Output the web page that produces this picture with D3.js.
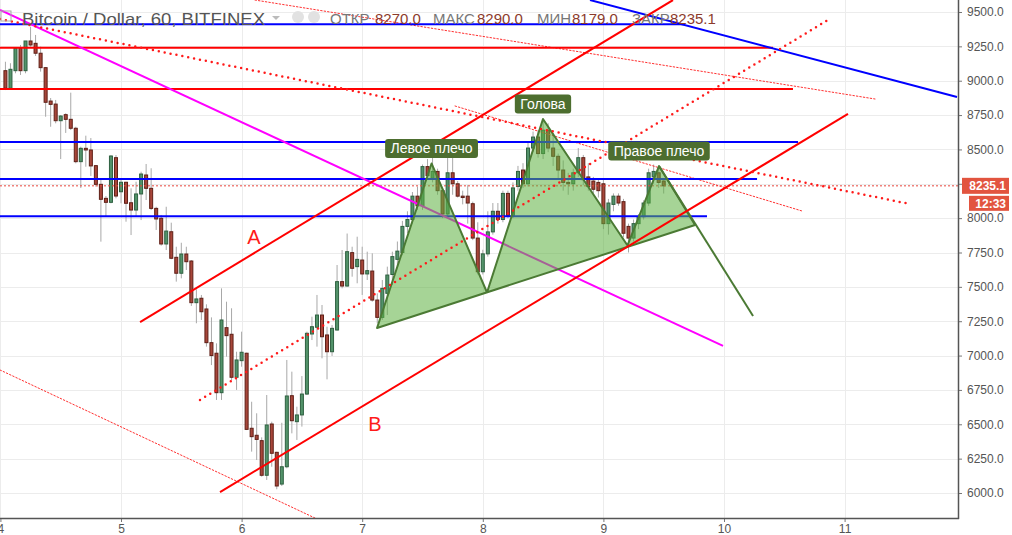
<!DOCTYPE html>
<html>
<head>
<meta charset="utf-8">
<script src="https://cdn.jsdelivr.net/npm/d3@7"></script>
<style>
  body { margin: 0; background: #fff; }
  svg { display: block; font-family: "Liberation Sans", Arial, sans-serif; }
</style>
</head>
<body>
<div id="chart"></div>
<script>
// axis ticks
var dayTicks = [4, 5, 6, 7, 8, 9, 10, 11];
var priceTicks = [6000, 6250, 6500, 6750, 7000, 7250, 7500, 7750, 8000, 8250, 8500, 8750, 9000, 9250, 9500];

// hourly candles, starting 4th 01:00
var opens = [9073,8945,9073,9236,9073,9289,9272,9200,9095,8852,8830,8709,8753,8719,8654,8411,8508,8496,8382,8246,
  8144,8115,8440,8192,8261,8112,8059,8176,8314,8217,8071,7999,7812,7901,7715,7599,7739,7688,7385,7417,
  7339,7094,7017,6730,7203,7155,6842,6963,7017,6471,6420,6381,6129,6502,6296,6065,6191,6708,6519,6568,
  6720,7157,7206,7295,7150,7028,7186,7538,7506,7749,7647,7695,7594,7615,7404,7278,7453,7590,7700,7750,
  7940,7990,8160,8090,8375,8290,8340,8200,8030,8330,8250,8160,8160,8105,7855,7610,7740,7900,8050,7990,
  8180,8020,8230,8350,8250,8510,8590,8470,8640,8510,8450,8350,8260,8250,8330,8440,8300,8270,8260,8250,
  7960,8100,8160,8120,7940,7855,7960,8010,8110,8300,8330,8270];
var highs = [9138,9127,9236,9260,9289,9393,9333,9248,9100,8874,8860,8750,8763,8913,8665,8520,8600,8583,8387,8290,
  8161,8459,8459,8278,8265,8217,8265,8338,8394,8363,8083,8023,8083,7967,7792,7821,7792,7695,7482,7441,
  7373,7278,7089,7489,7392,7344,7028,7174,7021,6664,6580,6405,6713,6519,6300,6511,6968,6883,6628,6851,
  7174,7283,7441,7368,7210,7222,7659,7768,7888,7792,7865,7792,7756,7744,7453,7550,7647,7756,7830,7980,
  8050,8190,8230,8390,8430,8450,8360,8220,8480,8480,8270,8200,8240,8120,7970,7770,8050,8110,8110,8200,
  8200,8260,8380,8400,8560,8630,8640,8710,8690,8620,8470,8420,8330,8360,8510,8460,8400,8300,8290,8280,
  8140,8180,8180,8140,7960,7990,8030,8130,8360,8390,8370,8290];
var lows = [8932,8945,9054,9042,9054,9248,9180,9066,8738,8665,8690,8430,8620,8641,8399,8219,8374,8307,8229,7829,
  8010,8108,8144,8108,7974,7877,8010,7986,8132,8059,7914,7800,7768,7701,7538,7562,7623,7361,7235,7259,
  7065,6931,6677,6677,6992,6822,6750,6919,6458,6301,6240,6119,6095,6191,6027,6051,6180,6434,6386,6483,
  6713,7113,7065,6980,6827,6997,7181,7489,7501,7574,7526,7441,7550,7392,7235,7259,7295,7514,7650,7730,
  7890,7960,8060,8060,8280,8260,8170,8000,8010,8170,8150,8100,7960,7840,7590,7590,7720,7880,7960,7970,
  8000,8000,8200,8220,8230,8480,8440,8430,8480,8380,8290,8200,8170,8200,8300,8240,8200,8180,8150,7920,
  7880,8050,8090,7860,7750,7830,7920,7990,8090,8250,8220,8179];
var closes = [8945,9083,9236,9073,9289,9260,9200,9095,8843,8828,8709,8743,8719,8654,8411,8508,8496,8380,8246,8137,
  8115,8452,8161,8261,8108,8059,8176,8321,8217,8071,7994,7812,7906,7708,7599,7739,7683,7385,7412,7319,
  7094,7000,6730,7259,7145,6842,6968,7024,6463,6410,6390,6129,6495,6289,6051,6191,6706,6526,6568,6720,
  7162,7210,7295,7137,7028,7198,7538,7506,7756,7635,7700,7594,7618,7404,7278,7489,7586,7720,7760,7940,
  7990,8160,8090,8375,8310,8340,8200,8030,8330,8250,8160,8150,8110,7855,7610,7740,7900,8050,7990,8180,
  8020,8220,8340,8250,8510,8590,8470,8640,8510,8450,8350,8260,8250,8330,8440,8280,8230,8210,8200,7960,
  8110,8160,8110,7890,7855,7960,8010,8110,8330,8340,8260,8235.1];

// header values
var symbolTitle = "Bitcoin / Dollar, 60, BITFINEX";
var ohlcNames = ["ОТКР", "МАКС", "МИН", "ЗАКР"];
var ohlcValues = [8270.0, 8290.0, 8179.0, 8235.1];
var lastPrice = 8235.1;
var timeLeft = "12:33";

// drawings, points are [day, price]
var blueLevels = [9410, 8554, 8285, 8013];
var blueLevelEnds = [9.677, 10.614, 10.274, 9.859];
var redLevels = [9240, 8940];
var redLevelEnds = [10.406, 10.572];
var blueFall = [[8.889, 9587], [11.932, 8881]];
var magentaLine = [[3.997, 9515], [9.992, 7070]];
var channelA = [[5.158, 7244], [9.577, 9587]];
var channelB = [[5.821, 6007], [11.028, 8758]];
var dotsDown = [[3.997, 9449], [11.542, 8103]];
var dotsUp = [[5.655, 6677], [10.862, 9442]];
var thinTop = [[6.111, 9587], [11.252, 8867]];
var thinMid = [[7.770, 8816], [10.647, 8052]];
var thinLow = [[3.997, 6895], [6.608, 5818]];
var hsPoints = [[7.123, 7201], [7.575, 8398], [8.035, 7459], [8.499, 8721], [9.200, 7801], [9.461, 8379], [9.760, 7950]];
var hsTarget = [10.241, 7288];
var hsNames = ["Левое плечо", "Голова", "Правое плечо"];
var letterA = [6.103, 7812];
var letterB = [7.106, 6451];

(function() {
    var width = 1012,
        height = 535,
        plotW = 958,
        plotH = 518;

    var svg = d3.select("#chart")
        .append("svg")
        .attr("width", width)
        .attr("height", height);

    var x = d3.scaleLinear().domain([4, 12]).range([0.4, 965.2]);
    var y = d3.scaleLinear().domain([6000, 9500]).range([493, 12]);
    var fmt = d3.format(".1f");

    svg.append("defs").append("clipPath").attr("id", "plot")
        .append("rect").attr("width", plotW).attr("height", plotH);

    // grid
    svg.append("g").selectAll("line").data(priceTicks).enter().append("line")
        .attr("x1", 0).attr("x2", plotW)
        .attr("y1", function(d) { return Math.round(y(d)) + 0.5; })
        .attr("y2", function(d) { return Math.round(y(d)) + 0.5; })
        .attr("stroke", "#ececec");
    svg.append("g").selectAll("line").data(dayTicks).enter().append("line")
        .attr("y1", 0).attr("y2", plotH)
        .attr("x1", function(d) { return Math.round(x(d)) + 0.5; })
        .attr("x2", function(d) { return Math.round(x(d)) + 0.5; })
        .attr("stroke", "#ececec");

    var plot = svg.append("g").attr("clip-path", "url(#plot)");

    // header text
    svg.append("rect").attr("x", 1).attr("y", 11).attr("width", 10).attr("height", 10)
        .attr("fill", "none").attr("stroke", "#aaa");
    svg.append("text").attr("x", 22).attr("y", 25).attr("font-size", 17).attr("fill", "#555")
        .attr("textLength", 243).attr("lengthAdjust", "spacingAndGlyphs")
        .text(symbolTitle);
    svg.append("path").attr("d", "M272,16 l8,0 l-4,4 z").attr("fill", "#bbb");
    svg.append("circle").attr("cx", 298).attr("cy", 17).attr("r", 6).attr("fill", "#e2e2e2");
    svg.append("circle").attr("cx", 314).attr("cy", 17).attr("r", 6).attr("fill", "#e2e2e2");

    var nameX = [330, 433, 537, 632],
        valueX = [375, 477, 572, 670];
    ohlcNames.forEach(function(n, i) {
        svg.append("text").attr("x", nameX[i]).attr("y", 24).attr("font-size", 15)
            .attr("fill", "#777").text(n);
        svg.append("text").attr("x", valueX[i]).attr("y", 24).attr("font-size", 15)
            .attr("fill", "#8c3b2c").text(fmt(ohlcValues[i]));
    });

    // candles
    var candles = opens.map(function(o, i) {
        return { t: 4 + (i + 1) / 24, o: o, h: highs[i], l: lows[i], c: closes[i] };
    });
    var cg = plot.append("g");
    cg.selectAll(".wick").data(candles).enter().append("line")
        .attr("x1", function(d) { return x(d.t); })
        .attr("x2", function(d) { return x(d.t); })
        .attr("y1", function(d) { return y(d.h); })
        .attr("y2", function(d) { return y(d.l); })
        .attr("stroke", "#a8a8a8");
    cg.selectAll(".body").data(candles).enter().append("rect")
        .attr("x", function(d) { return x(d.t) - 1.5; })
        .attr("width", 3)
        .attr("y", function(d) { return y(Math.max(d.o, d.c)); })
        .attr("height", function(d) { return Math.max(1, Math.abs(y(d.o) - y(d.c))); })
        .attr("fill", function(d) { return d.c >= d.o ? "#53936a" : "#a7463a"; })
        .attr("stroke", function(d) { return d.c >= d.o ? "#2e6040" : "#5e1f16"; })
        .attr("stroke-width", 1);

    // current price line
    plot.append("line").attr("x1", 0).attr("x2", plotW)
        .attr("y1", y(lastPrice)).attr("y2", y(lastPrice))
        .attr("stroke", "#e8453c").attr("stroke-dasharray", "2,2");

    function seg(pts, color, w, dash) {
        var l = plot.append("line")
            .attr("x1", x(pts[0][0])).attr("y1", y(pts[0][1]))
            .attr("x2", x(pts[1][0])).attr("y2", y(pts[1][1]))
            .attr("stroke", color).attr("stroke-width", w);
        if (dash) l.attr("stroke-dasharray", dash).attr("stroke-linecap", "round");
        return l;
    }

    // thin dotted lines
    seg(thinTop, "#ff3030", 1, "1.5,2");
    seg(thinMid, "#ff3030", 1, "1.5,2");
    seg(thinLow, "#ff3030", 1, "1.5,2");

    // levels
    blueLevels.forEach(function(p, i) { seg([[3.9, p], [blueLevelEnds[i], p]], "#0000ff", 2); });
    redLevels.forEach(function(p, i) { seg([[3.9, p], [redLevelEnds[i], p]], "#ff0000", 2); });
    seg(blueFall, "#0000ff", 2);
    seg(magentaLine, "#ff00ff", 2);

    // head and shoulders
    var line = d3.line().x(function(d) { return x(d[0]); }).y(function(d) { return y(d[1]); });
    plot.append("path").attr("d", line(hsPoints) + "Z")
        .attr("fill", "#5cb040").attr("fill-opacity", 0.55)
        .attr("stroke", "#4b7a34").attr("stroke-width", 2).attr("stroke-linejoin", "round");
    seg([hsPoints[5], hsTarget], "#4b7a34", 2);

    // channel and dotted trend lines
    seg(channelA, "#ff0000", 2);
    seg(channelB, "#ff0000", 2);
    seg(dotsDown, "#ff1a1a", 2.5, "0,6");
    seg(dotsUp, "#ff1a1a", 2.5, "0,6");

    plot.append("text").attr("x", x(letterA[0])).attr("y", y(letterA[1]))
        .attr("text-anchor", "middle").attr("font-size", 20).attr("fill", "#ff1a1a").text("A");
    plot.append("text").attr("x", x(letterB[0])).attr("y", y(letterB[1]))
        .attr("text-anchor", "middle").attr("font-size", 20).attr("fill", "#ff1a1a").text("B");

    // pattern labels
    [hsPoints[1], hsPoints[3], hsPoints[5]].forEach(function(p, i) {
        var cx = x(p[0]), cy = y(p[1]) - 15;
        var g = plot.append("g");
        var t = g.append("text").attr("x", cx).attr("y", cy + 5)
            .attr("text-anchor", "middle").attr("font-size", 14).attr("fill", "#fff")
            .text(hsNames[i]);
        var w = t.node().getComputedTextLength() + 11;
        g.insert("rect", "text").attr("x", cx - w / 2).attr("y", cy - 9.5)
            .attr("width", w).attr("height", 19).attr("rx", 3)
            .attr("fill", "#4d6e2f");
    });

    // axes
    var ya = svg.append("g").attr("transform", "translate(" + plotW + ",0)")
        .call(d3.axisRight(y).tickValues(priceTicks).tickFormat(fmt).tickSize(4).tickPadding(5));
    ya.select(".domain").remove();
    ya.selectAll("text").attr("font-size", 12).attr("fill", "#555").style("font-family", "Liberation Sans, Arial");
    ya.selectAll(".tick line").attr("stroke", "#777");
    // the label under the last-price badge is hidden
    ya.selectAll(".tick").filter(function(d) { return Math.abs(y(d) - y(lastPrice)) < 10; })
        .select("text").remove();

    var xa = svg.append("g").attr("transform", "translate(0," + plotH + ")")
        .call(d3.axisBottom(x).tickValues(dayTicks).tickFormat(d3.format("d")).tickSize(4).tickPadding(2));
    xa.select(".domain").remove();
    xa.selectAll("text").attr("font-size", 12).attr("fill", "#555").style("font-family", "Liberation Sans, Arial");
    xa.selectAll(".tick line").attr("stroke", "#777");

    svg.append("line").attr("x1", plotW + 0.5).attr("x2", plotW + 0.5).attr("y1", 0).attr("y2", plotH + 1)
        .attr("stroke", "#555").attr("stroke-width", 1.5);
    svg.append("line").attr("x1", 0).attr("x2", plotW + 1).attr("y1", plotH + 0.5).attr("y2", plotH + 0.5)
        .attr("stroke", "#555").attr("stroke-width", 1.5);

    // last price badge
    var py = y(lastPrice);
    svg.append("rect").attr("x", 962).attr("y", py - 8).attr("width", 47).attr("height", 16)
        .attr("fill", "#e2543f");
    svg.append("text").attr("x", 1006).attr("y", py + 4.5).attr("text-anchor", "end")
        .attr("font-size", 12).attr("font-weight", "bold").attr("fill", "#fff")
        .text(fmt(lastPrice));
    svg.append("rect").attr("x", 969).attr("y", py + 10).attr("width", 40).attr("height", 15)
        .attr("fill", "#e2543f");
    svg.append("text").attr("x", 1006).attr("y", py + 22).attr("text-anchor", "end")
        .attr("font-size", 12).attr("font-weight", "bold").attr("fill", "#fff")
        .text(timeLeft);
})();
</script>
</body>
</html>
